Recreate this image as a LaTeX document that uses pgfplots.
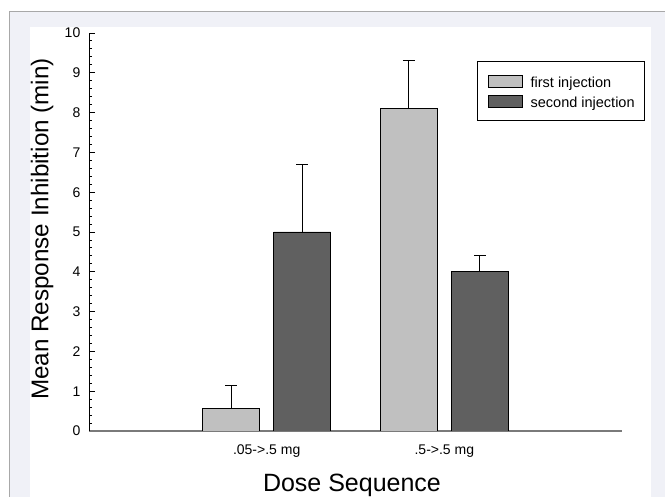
\documentclass[border=0pt]{standalone}
\usepackage{pgfplots}
\pgfplotsset{compat=1.18}
\usepackage{fontspec}
\setmainfont{Liberation Sans}
\definecolor{lightbar}{HTML}{C0C0C0}
\definecolor{darkbar}{HTML}{606060}
\definecolor{framefill}{HTML}{F0F1F7}
\definecolor{frameline}{HTML}{A8A8A8}
\definecolor{xaxisgray}{HTML}{7A7A7A}
\pgfplotsset{sqlegend/.style={legend image code/.code={\draw[##1, draw=black, line width=0.8bp] (0bp,0bp) rectangle (34bp,11.7bp);}}}
\begin{document}
\begin{tikzpicture}[x=1bp,y=1bp]
\useasboundingbox (0,0) rectangle (665,497);
\clip (0,0) rectangle (665,497);
\fill[white] (0,0) rectangle (665,497);
\fill[framefill] (9,0) rectangle (665,485);
\draw[frameline, line width=1bp] (9,0) -- (9,485) -- (665,485);
\fill[white] (30,0) rectangle (651,469.7);
\begin{axis}[
  at={(89bp,66bp)}, anchor=south west,
  scale only axis, width=533bp, height=398bp,
  xmin=0, xmax=3, ymin=0, ymax=10,
  axis x line*=bottom, axis y line*=left,
  x axis line style={-, draw=xaxisgray, line width=2bp},
  y axis line style={-, draw=black, line width=0.9bp},
  xtick={1,2}, xticklabels={.05->.5 mg, .5->.5 mg},
  x tick style={draw=none},
  ytick={0,1,2,3,4,5,6,7,8,9,10},
  minor y tick num=4,
  tick align=inside,
  major tick length=6bp, minor tick length=3bp,
  y tick style={black, line width=0.9bp},
  minor y tick style={black, line width=0.9bp},
  /pgf/number format/assume math mode=true,
  tick label style={font=\fontsize{14bp}{16bp}\selectfont},
  yticklabel style={anchor=east, inner sep=0pt, xshift=-8.5bp},
  xticklabel style={anchor=base, inner sep=0pt, yshift=-24bp},
  ylabel={Mean Response Inhibition (min)},
  ylabel style={at={(axis description cs:-0.076,0.5075)}, anchor=base, inner sep=0pt, font=\fontsize{24.2bp}{29bp}\selectfont},
  xlabel={Dose Sequence},
  xlabel style={at={(axis description cs:0.4934,0)}, anchor=base, inner sep=0pt, yshift=-60.5bp, font=\fontsize{25bp}{30bp}\selectfont},
  legend style={at={(axis description cs:1.0432,0.9304)}, anchor=north east, draw=black, line width=0.8bp, fill=white,
    inner xsep=10bp, inner ysep=10bp, row sep=1bp, column sep=8bp,
    font=\fontsize{14.5bp}{16bp}\selectfont,
    nodes={inner sep=0pt, text height=16bp, text depth=3bp, anchor=base west}},
  legend cell align=left,
]
\addplot[ybar, bar width=57bp, bar shift=0pt, fill=lightbar, draw=black, line width=0.8bp, sqlegend,
  error bars/.cd, y dir=plus, y explicit, error mark=|,
  error bar style={black, line width=1bp},
  error mark options={black, line width=1bp, mark size=5.85bp}]
  coordinates {(0.8,0.57) +- (0,0.58) (1.8,8.10) +- (0,1.20)};
\addlegendentry{first injection}
\addplot[ybar, bar width=57bp, bar shift=0pt, fill=darkbar, draw=black, line width=0.8bp, sqlegend,
  error bars/.cd, y dir=plus, y explicit, error mark=|,
  error bar style={black, line width=1bp},
  error mark options={black, line width=1bp, mark size=5.85bp}]
  coordinates {(1.2,5.00) +- (0,1.70) (2.2,4.00) +- (0,0.40)};
\addlegendentry{second injection}
\end{axis}
\end{tikzpicture}
\end{document}
